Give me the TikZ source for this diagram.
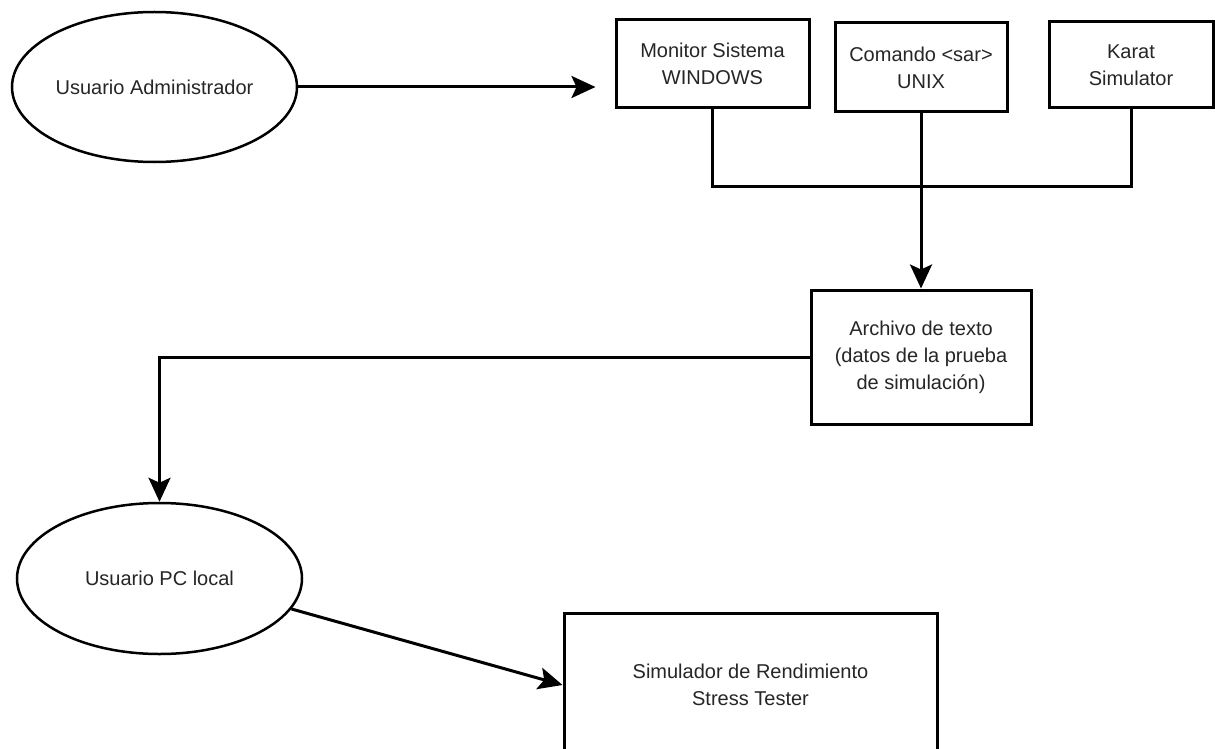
\documentclass[tikz,border=0pt]{standalone}
\usepackage{fontspec}
\setmainfont{Liberation Sans}
\usetikzlibrary{shapes.geometric,arrows.meta}
\begin{document}
\begin{tikzpicture}[x=1pt,y=-1pt,
  every node/.style={font=\fontsize{20}{27}\selectfont, text=black!85, align=center, inner sep=0pt},
  boxnode/.style={draw, line width=3pt, rectangle},
  ellnode/.style={draw, line width=2.5pt, ellipse},
  conn/.style={line width=3pt},
  arr/.style={line width=3pt, -{Stealth[length=24pt,width=22pt,inset=5pt]}}]
\useasboundingbox (0,0) rectangle (1215,749);
\clip (0,0) rectangle (1215,749);
\fill[white] (0,0) rectangle (1215,749);
\node[ellnode, minimum width=285pt, minimum height=150pt] (e1) at (154.5,87) {Usuario Administrador};
\node[boxnode, minimum width=193pt, minimum height=88pt] (mon) at (712.5,64) {Monitor Sistema\\WINDOWS};
\node[boxnode, minimum width=172pt, minimum height=89pt] (com) at (921,67.5) {Comando \textless sar\textgreater\\UNIX};
\node[boxnode, minimum width=164pt, minimum height=86pt] (kar) at (1131,65) {Karat\\Simulator};
\node[boxnode, minimum width=220pt, minimum height=134pt] (arch) at (921,357) {Archivo de texto\\(datos de la prueba\\de simulación)};
\node[ellnode, minimum width=285pt, minimum height=151pt] (e2) at (159.5,578.5) {Usuario PC local};
\node[boxnode, minimum width=373pt, minimum height=144pt] (sim) at (750.5,685) {Simulador de Rendimiento\\Stress Tester};
\coordinate (bus) at (0,186);
\draw[arr, shorten >=19pt] (e1.east) -- (mon.west |- e1.east);
\draw[conn] (mon.south) -- (mon.south |- bus) -- (kar.south |- bus) -- (kar.south);
\draw[arr] (com.south) -- (arch.north);
\draw[arr] (arch.west) -| (e2.north);
\draw[arr] (e2.-13) -- (sim.west);
\end{tikzpicture}
\end{document}
